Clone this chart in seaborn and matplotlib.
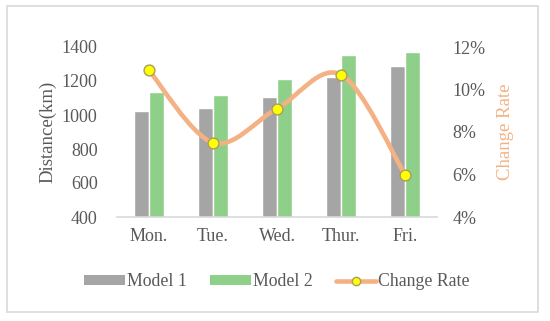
import numpy as np
import pandas as pd
import matplotlib
matplotlib.use("Agg")
import matplotlib.pyplot as plt
import seaborn as sns
from matplotlib.path import Path
from matplotlib.patches import PathPatch, Patch, Rectangle
from matplotlib.lines import Line2D

days = ["Mon.", "Tue.", "Wed.", "Thur.", "Fri."]
model1 = [1025, 1040, 1105, 1225, 1290]
model2 = [1135, 1120, 1210, 1355, 1370]
change_rate = [10.9, 7.5, 9.1, 10.7, 6.0]  # percent

GRAY = "#A5A5A5"
GREEN = "#8ED08A"
ORANGE = "#F4B183"
TEXT = "#595959"

sns.set_theme(style="white")
plt.rcParams["font.family"] = ["Liberation Serif", "DejaVu Serif"]

df = pd.DataFrame({
    "day": days * 2,
    "dist": model1 + model2,
    "model": ["Model 1"] * 5 + ["Model 2"] * 5,
})

fig = plt.figure(figsize=(5.5, 3.21), dpi=100)
ax = fig.add_axes([117 / 550, 1 - 217 / 321, 320 / 550, 170 / 321])
sns.barplot(data=df, x="day", y="dist", hue="model", palette=[GRAY, GREEN],
            width=0.47, saturation=1, ax=ax, legend=False)
ax.set_ylim(400, 1400)
ax.set_xlim(-0.5, 4.5)
ax.set_yticks(range(400, 1401, 200))
ax.set_xlabel("")
ax.set_ylabel("Distance(km)", color=TEXT, fontsize=13.5, labelpad=4)
ax.tick_params(axis="y", colors=TEXT, labelsize=13, pad=14, length=0)
ax.tick_params(axis="x", colors=TEXT, labelsize=13, pad=8, length=0)
for s in ["top", "right", "left"]:
    ax.spines[s].set_visible(False)
ax.spines["bottom"].set_color("#D9D9D9")
ax.spines["bottom"].set_linewidth(1.2)

ax2 = ax.twinx()
ax2.set_ylim(4, 12)
ax2.set_yticks([4, 6, 8, 10, 12])
ax2.set_yticklabels([f"{v}%" for v in [4, 6, 8, 10, 12]])
ax2.tick_params(axis="y", colors=TEXT, labelsize=13, pad=11, length=0)
ax2.set_ylabel("Change Rate", color=ORANGE, fontsize=13.5, labelpad=8)
for s in ax2.spines.values():
    s.set_visible(False)

# smoothed line like spreadsheet charts (cubic bezier through the points)
xs = np.arange(len(days), dtype=float)
ys = np.array(change_rate)
pts = np.column_stack([xs, ys])
ext = np.vstack([pts[0], pts, pts[-1]])
verts = [tuple(pts[0])]
codes = [Path.MOVETO]
for i in range(len(pts) - 1):
    p0, p1, p2, p3 = ext[i], ext[i + 1], ext[i + 2], ext[i + 3]
    c1 = p1 + (p2 - p0) / 6
    c2 = p2 - (p3 - p1) / 6
    verts += [tuple(c1), tuple(c2), tuple(p2)]
    codes += [Path.CURVE4] * 3
ax2.add_patch(PathPatch(Path(verts, codes), facecolor="none", edgecolor=ORANGE,
                        lw=3.3, capstyle="round", zorder=3))
ax2.plot(xs, ys, linestyle="none", marker="o", markersize=7.8,
         markerfacecolor="#FFFF00", markeredgecolor="#A89F5A",
         markeredgewidth=1.0, zorder=4)

handles = [
    Patch(facecolor=GRAY, edgecolor="none", label="Model 1"),
    Patch(facecolor=GREEN, edgecolor="none", label="Model 2"),
    Line2D([0], [0], color=ORANGE, lw=3.3, marker="o", markersize=6,
           markerfacecolor="#FFFF00", markeredgecolor="#A89F5A",
           label="Change Rate"),
]
leg = fig.legend(handles=handles, loc="center", bbox_to_anchor=(277 / 550, 1 - 282 / 321),
                 ncol=3, frameon=False, fontsize=12.8, handlelength=2.3,
                 handleheight=0.5, handletextpad=0.1, columnspacing=1.3)
for t in leg.get_texts():
    t.set_color(TEXT)

fig.patches.append(Rectangle((7 / 550, 1 - 312 / 321), 531 / 550, 306 / 321,
                             transform=fig.transFigure, fill=False,
                             edgecolor="#D9D9D9", lw=1.2))

fig.savefig("out.png", dpi=100)
